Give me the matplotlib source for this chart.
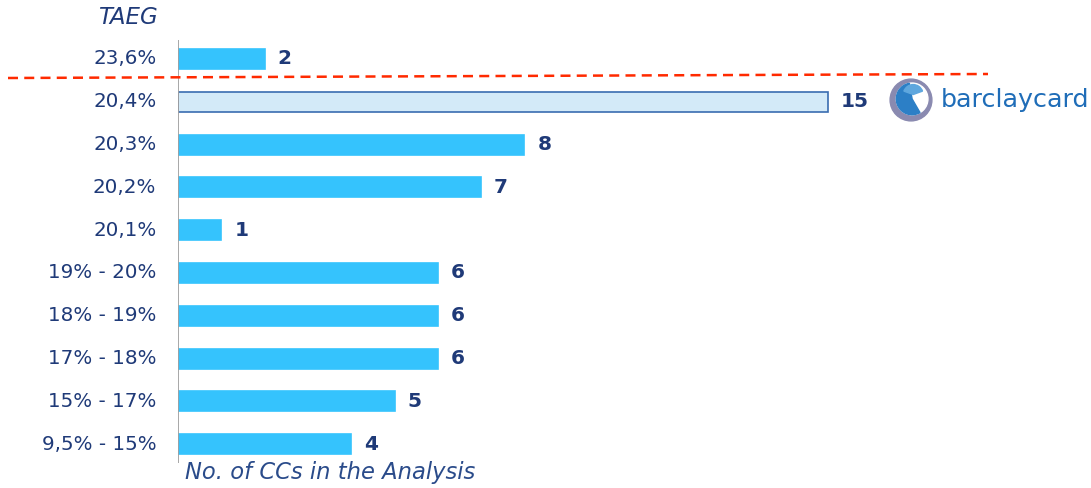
import numpy as np
import matplotlib.pyplot as plt
from matplotlib.patches import Wedge, Circle

# TAEG bands and number of credit cards in each band
categories = ["23,6%", "20,4%", "20,3%", "20,2%", "20,1%",
              "19% - 20%", "18% - 19%", "17% - 18%", "15% - 17%", "9,5% - 15%"]
counts = [2, 15, 8, 7, 1, 6, 6, 6, 5, 4]
highlight = "20,4%"

navy = "#1F3A78"
bar_blue = "#35C3FD"

fig = plt.figure(figsize=(10.91, 4.88), dpi=100)
W, H = 1091, 488
ax = fig.add_axes([178 / W, 0, (W - 178) / W, 1])

px_x = 43.3   # pixels per unit on x
px_y = 42.8   # pixels between rows
y0 = 59       # pixel row of the first bar
ax.set_xlim(0, (W - 178) / px_x)
ax.set_ylim((H - y0) / px_y, -y0 / px_y)

pos = np.arange(len(categories))
colors = ["#D3EAF8" if c == highlight else bar_blue for c in categories]
edges = ["#3A6DB0" if c == highlight else bar_blue for c in categories]
ax.barh(pos, counts, height=0.47, color=colors, edgecolor=edges, linewidth=1.2)

for p, v in zip(pos, counts):
    ax.text(v + 0.3, p, str(v), va="center", ha="left", fontsize=14.5,
            fontweight="bold", color=navy)

# category labels on the left
for p, c in zip(pos, categories):
    ax.text(-0.5, p, c, va="center", ha="right", fontsize=14.3, color=navy,
            clip_on=False)

for s in ax.spines.values():
    s.set_visible(False)
ax.set_xticks([])
ax.set_yticks([])
ax.vlines(0, -0.45, 9.45, color="#A0A0A0", linewidth=1.3)

# cut-off line between the top rate and the rest
ax.plot([(8 - 178) / px_x, (988 - 178) / px_x],
        [(78 - y0) / px_y, (74 - y0) / px_y],
        color="#FF2A00", linestyle=(0, (4, 2.5)), linewidth=1.8, clip_on=False)

fig.text(128 / W, 1 - 17 / H, "TAEG", ha="center", va="center",
         fontsize=16.5, style="italic", color=navy)
fig.text(185 / W, 1 - 472 / H, "No. of CCs in the Analysis", ha="left",
         va="center", fontsize=16.3, style="italic", color="#2A4B8A")

# barclaycard logo
lx, ly = 911, 100
logo = fig.add_axes([(lx - 22) / W, 1 - (ly + 22) / H, 44 / W, 44 / H])
logo.set_xlim(-1, 1)
logo.set_ylim(-1, 1)
logo.set_aspect("equal")
logo.axis("off")
logo.add_patch(Circle((0, 0), 0.95, color="#8A8AB0"))
logo.add_patch(Circle((0.05, 0.05), 0.72, color="white"))
logo.add_patch(Wedge((0.05, 0.05), 0.72, 100, 300, color="#2C7FC6"))
logo.add_patch(Wedge((0.1, 0.25), 0.45, 20, 160, color="#5FA7DE"))
fig.text(941 / W, 1 - 100 / H, "barclaycard", ha="left", va="center",
         fontsize=18.3, color="#1F6DB8")

fig.savefig("out.png", dpi=100)
